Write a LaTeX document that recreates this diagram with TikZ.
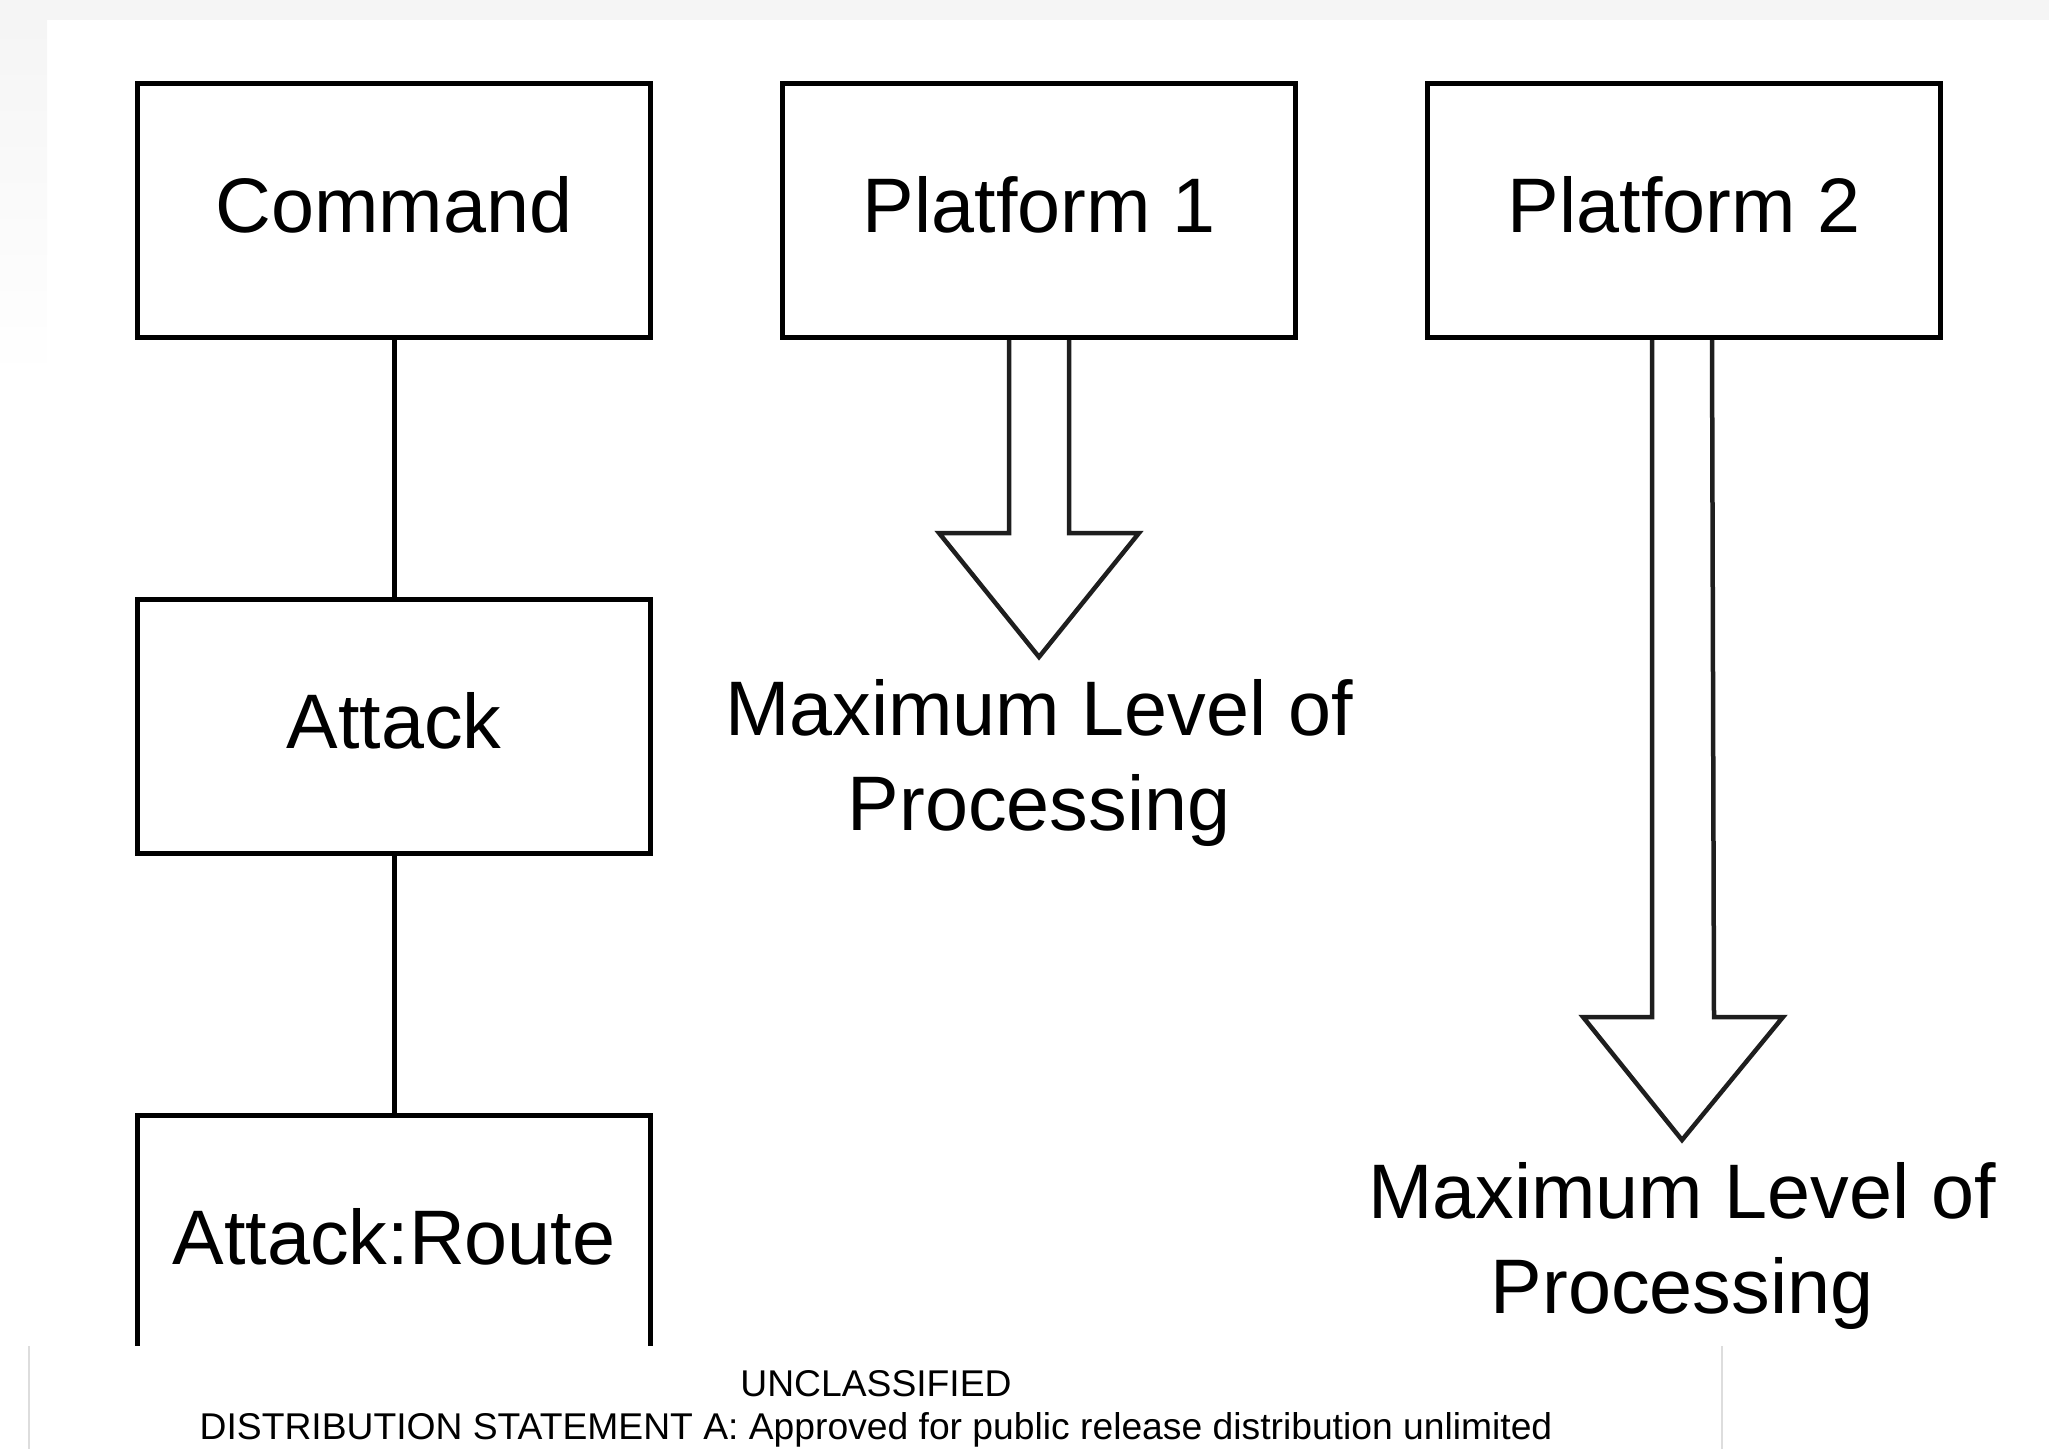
\documentclass[tikz,border=0pt]{standalone}
\usepackage{fontspec}
\setmainfont{Liberation Sans}
\usepackage{xcolor}
\usepackage{tikz}
\usetikzlibrary{positioning,calc}
\definecolor{chainInk}{HTML}{000000}
\definecolor{arrowInk}{HTML}{1E1E1E}
\definecolor{slideEdge}{HTML}{F5F5F5}
\definecolor{footLine}{HTML}{DDDDDD}
\tikzset{
  chainBox/.style={
    draw=chainInk,
    fill=white,
    line width=0.05cm,
    minimum width=5.13cm,
    minimum height=2.54cm,
    text depth=0.13cm,
    font=\fontsize{22pt}{27pt}\selectfont
  },
  chainLine/.style={line width=0.05cm, draw=chainInk},
  hollowArrow/.style={line width=0.045cm, draw=arrowInk, line join=miter},
  levelNote/.style={font=\fontsize{22pt}{27pt}\selectfont, align=center, inner sep=0pt},
  footNote/.style={font=\fontsize{10.6pt}{12.8pt}\selectfont, align=center, inner sep=0pt}
}

\begin{document}
\begin{tikzpicture}[node distance=2.57cm and 1.27cm]
    \useasboundingbox (0,0) rectangle (20.49,-14.49);
    % slide edge
    \fill[slideEdge] (0,0) rectangle (20.49,-0.2);
    \shade[top color=slideEdge, bottom color=white] (0,-0.2) rectangle (0.47,-3.8);

    \node[chainBox] (command) at (3.94,-2.105) {Command};
    \node[chainBox, right=of command] (plat1) {Platform 1};
    \node[chainBox, right=of plat1] (plat2) {Platform 2};
    \node[chainBox, below=of command] (attack) {Attack};
    \node[chainBox, below=of attack] (route) {Attack:Route};

    \draw[chainLine] (command.south) -- (attack.north);
    \draw[chainLine] (attack.south) -- (route.north);

    % processing arrows
    \coordinate (tipA) at ($(plat1.south)+(0,-3.17)$);
    \coordinate (tipB) at ($(plat2.south)+(-0.02,-8.0)$);
    \draw[hollowArrow] ($(plat1.south)+(-0.3,0)$) -- ++(0,-1.93) -- ++(-0.7,0)
      -- (tipA) -- ++(1,1.24) -- ++(-0.7,0) -- ($(plat1.south)+(0.3,0)$);
    \draw[hollowArrow] ($(plat2.south)+(-0.32,0)$) -- ++(0,-6.77) -- ++(-0.69,0)
      -- (tipB) -- ++(1.01,1.23) -- ++(-0.69,0) -- ($(plat2.south)+(0.28,0)$);

    \node[levelNote, below=0.22cm of tipA] (levelA) {Maximum Level of\\Processing};
    \node[levelNote, below=0.22cm of tipB] (levelB) {Maximum Level of\\Processing};

    % footer panel
    \fill[white] (0.29,-14.6) rectangle (17.22,-13.46);
    \draw[footLine] (0.29,-14.6) -- (0.29,-13.46);
    \draw[footLine] (17.22,-14.6) -- (17.22,-13.46);
    \node[footNote] (unclass) at (8.76,-13.84) {UNCLASSIFIED};
    \node[footNote] (distrib) at (8.76,-14.3)
      {DISTRIBUTION STATEMENT A: Approved for public release distribution unlimited};
  \end{tikzpicture}
\end{document}
